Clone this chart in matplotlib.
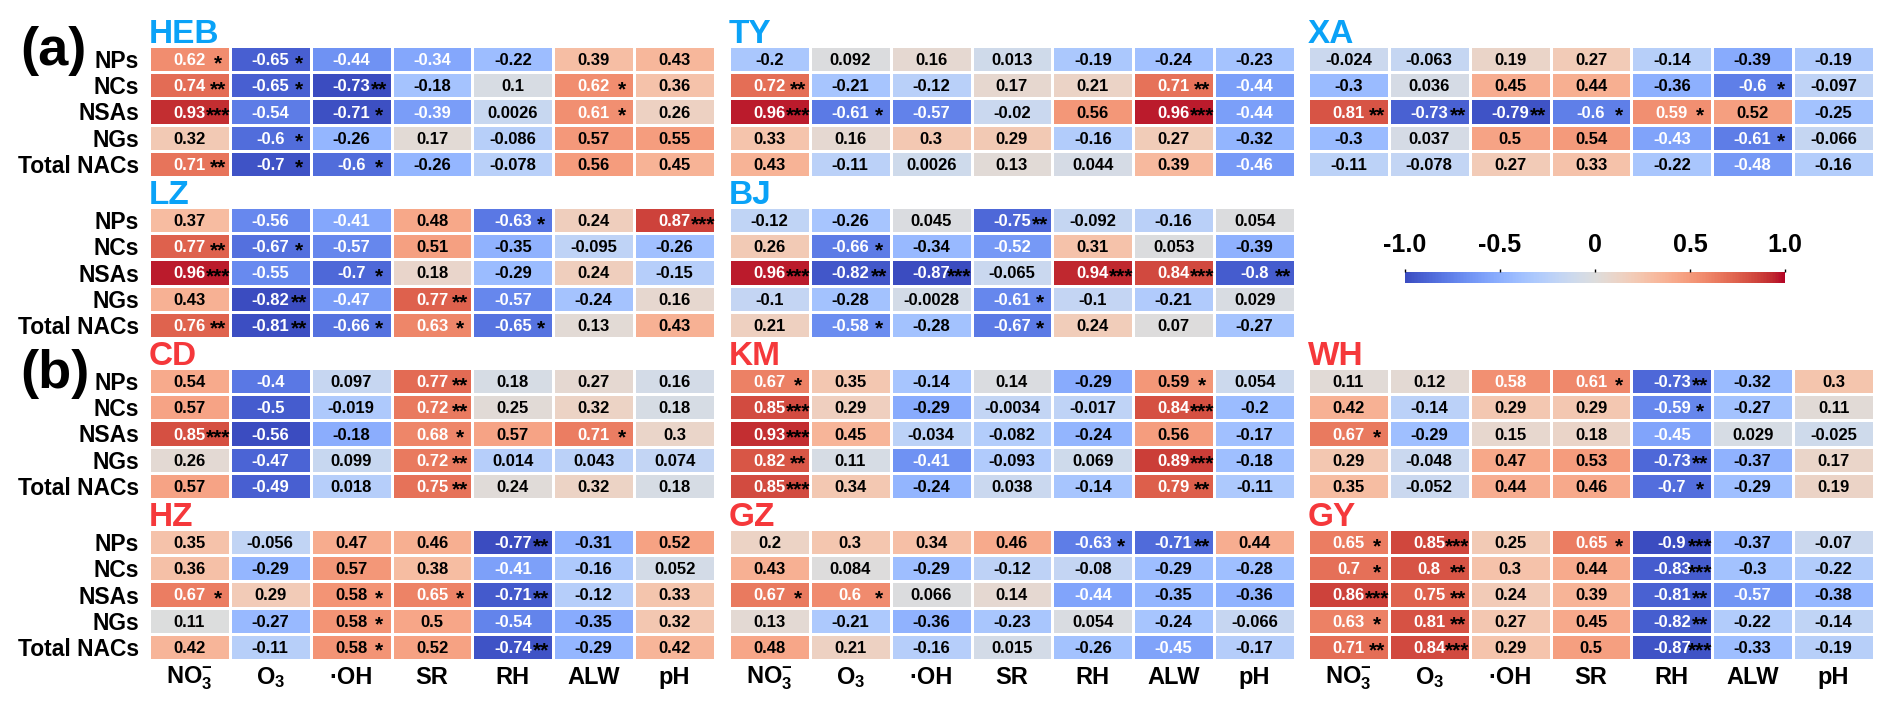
import numpy as np
import matplotlib
matplotlib.use('Agg')
import matplotlib.pyplot as plt
from matplotlib.colors import Normalize
from matplotlib.cm import ScalarMappable

plt.rcParams['font.family'] = ['Liberation Sans', 'DejaVu Sans']
plt.rcParams['mathtext.fontset'] = 'custom'
plt.rcParams['mathtext.rm'] = 'Liberation Sans:bold'
plt.rcParams['mathtext.it'] = 'Liberation Sans:bold'
plt.rcParams['mathtext.bf'] = 'Liberation Sans:bold'

# ---------------- data ----------------
factors = ['NO$_3^{-}$', 'O$_3$', '\u00b7OH', 'SR', 'RH', 'ALW', 'pH']
groups = ['NPs', 'NCs', 'NSAs', 'NGs', 'Total NACs']

heb_r = [[0.62, -0.65, -0.44, -0.34, -0.22, 0.39, 0.43],
         [0.74, -0.65, -0.73, -0.18, 0.1, 0.62, 0.36],
         [0.93, -0.54, -0.71, -0.39, 0.0026, 0.61, 0.26],
         [0.32, -0.6, -0.26, 0.17, -0.086, 0.57, 0.55],
         [0.71, -0.7, -0.6, -0.26, -0.078, 0.56, 0.45]]
heb_sig = [[1, 1, 0, 0, 0, 0, 0],
           [2, 1, 2, 0, 0, 1, 0],
           [3, 0, 1, 0, 0, 1, 0],
           [0, 1, 0, 0, 0, 0, 0],
           [2, 1, 1, 0, 0, 0, 0]]

ty_r = [[-0.2, 0.092, 0.16, 0.013, -0.19, -0.24, -0.23],
        [0.72, -0.21, -0.12, 0.17, 0.21, 0.71, -0.44],
        [0.96, -0.61, -0.57, -0.02, 0.56, 0.96, -0.44],
        [0.33, 0.16, 0.3, 0.29, -0.16, 0.27, -0.32],
        [0.43, -0.11, 0.0026, 0.13, 0.044, 0.39, -0.46]]
ty_sig = [[0, 0, 0, 0, 0, 0, 0],
          [2, 0, 0, 0, 0, 2, 0],
          [3, 1, 0, 0, 0, 3, 0],
          [0, 0, 0, 0, 0, 0, 0],
          [0, 0, 0, 0, 0, 0, 0]]

xa_r = [[-0.024, -0.063, 0.19, 0.27, -0.14, -0.39, -0.19],
        [-0.3, 0.036, 0.45, 0.44, -0.36, -0.6, -0.097],
        [0.81, -0.73, -0.79, -0.6, 0.59, 0.52, -0.25],
        [-0.3, 0.037, 0.5, 0.54, -0.43, -0.61, -0.066],
        [-0.11, -0.078, 0.27, 0.33, -0.22, -0.48, -0.16]]
xa_sig = [[0, 0, 0, 0, 0, 0, 0],
          [0, 0, 0, 0, 0, 1, 0],
          [2, 2, 2, 1, 1, 0, 0],
          [0, 0, 0, 0, 0, 1, 0],
          [0, 0, 0, 0, 0, 0, 0]]

lz_r = [[0.37, -0.56, -0.41, 0.48, -0.63, 0.24, 0.87],
        [0.77, -0.67, -0.57, 0.51, -0.35, -0.095, -0.26],
        [0.96, -0.55, -0.7, 0.18, -0.29, 0.24, -0.15],
        [0.43, -0.82, -0.47, 0.77, -0.57, -0.24, 0.16],
        [0.76, -0.81, -0.66, 0.63, -0.65, 0.13, 0.43]]
lz_sig = [[0, 0, 0, 0, 1, 0, 3],
          [2, 1, 0, 0, 0, 0, 0],
          [3, 0, 1, 0, 0, 0, 0],
          [0, 2, 0, 2, 0, 0, 0],
          [2, 2, 1, 1, 1, 0, 0]]

bj_r = [[-0.12, -0.26, 0.045, -0.75, -0.092, -0.16, 0.054],
        [0.26, -0.66, -0.34, -0.52, 0.31, 0.053, -0.39],
        [0.96, -0.82, -0.87, -0.065, 0.94, 0.84, -0.8],
        [-0.1, -0.28, -0.0028, -0.61, -0.1, -0.21, 0.029],
        [0.21, -0.58, -0.28, -0.67, 0.24, 0.07, -0.27]]
bj_sig = [[0, 0, 0, 2, 0, 0, 0],
          [0, 1, 0, 0, 0, 0, 0],
          [3, 2, 3, 0, 3, 3, 2],
          [0, 0, 0, 1, 0, 0, 0],
          [0, 1, 0, 1, 0, 0, 0]]

cd_r = [[0.54, -0.4, 0.097, 0.77, 0.18, 0.27, 0.16],
        [0.57, -0.5, -0.019, 0.72, 0.25, 0.32, 0.18],
        [0.85, -0.56, -0.18, 0.68, 0.57, 0.71, 0.3],
        [0.26, -0.47, 0.099, 0.72, 0.014, 0.043, 0.074],
        [0.57, -0.49, 0.018, 0.75, 0.24, 0.32, 0.18]]
cd_sig = [[0, 0, 0, 2, 0, 0, 0],
          [0, 0, 0, 2, 0, 0, 0],
          [3, 0, 0, 1, 0, 1, 0],
          [0, 0, 0, 2, 0, 0, 0],
          [0, 0, 0, 2, 0, 0, 0]]

km_r = [[0.67, 0.35, -0.14, 0.14, -0.29, 0.59, 0.054],
        [0.85, 0.29, -0.29, -0.0034, -0.017, 0.84, -0.2],
        [0.93, 0.45, -0.034, -0.082, -0.24, 0.56, -0.17],
        [0.82, 0.11, -0.41, -0.093, 0.069, 0.89, -0.18],
        [0.85, 0.34, -0.24, 0.038, -0.14, 0.79, -0.11]]
km_sig = [[1, 0, 0, 0, 0, 1, 0],
          [3, 0, 0, 0, 0, 3, 0],
          [3, 0, 0, 0, 0, 0, 0],
          [2, 0, 0, 0, 0, 3, 0],
          [3, 0, 0, 0, 0, 2, 0]]

wh_r = [[0.11, 0.12, 0.58, 0.61, -0.73, -0.32, 0.3],
        [0.42, -0.14, 0.29, 0.29, -0.59, -0.27, 0.11],
        [0.67, -0.29, 0.15, 0.18, -0.45, 0.029, -0.025],
        [0.29, -0.048, 0.47, 0.53, -0.73, -0.37, 0.17],
        [0.35, -0.052, 0.44, 0.46, -0.7, -0.29, 0.19]]
wh_sig = [[0, 0, 0, 1, 2, 0, 0],
          [0, 0, 0, 0, 1, 0, 0],
          [1, 0, 0, 0, 0, 0, 0],
          [0, 0, 0, 0, 2, 0, 0],
          [0, 0, 0, 0, 1, 0, 0]]

hz_r = [[0.35, -0.056, 0.47, 0.46, -0.77, -0.31, 0.52],
        [0.36, -0.29, 0.57, 0.38, -0.41, -0.16, 0.052],
        [0.67, 0.29, 0.58, 0.65, -0.71, -0.12, 0.33],
        [0.11, -0.27, 0.58, 0.5, -0.54, -0.35, 0.32],
        [0.42, -0.11, 0.58, 0.52, -0.74, -0.29, 0.42]]
hz_sig = [[0, 0, 0, 0, 2, 0, 0],
          [0, 0, 0, 0, 0, 0, 0],
          [1, 0, 1, 1, 2, 0, 0],
          [0, 0, 1, 0, 0, 0, 0],
          [0, 0, 1, 0, 2, 0, 0]]

gz_r = [[0.2, 0.3, 0.34, 0.46, -0.63, -0.71, 0.44],
        [0.43, 0.084, -0.29, -0.12, -0.08, -0.29, -0.28],
        [0.67, 0.6, 0.066, 0.14, -0.44, -0.35, -0.36],
        [0.13, -0.21, -0.36, -0.23, 0.054, -0.24, -0.066],
        [0.48, 0.21, -0.16, 0.015, -0.26, -0.45, -0.17]]
gz_sig = [[0, 0, 0, 0, 1, 2, 0],
          [0, 0, 0, 0, 0, 0, 0],
          [1, 1, 0, 0, 0, 0, 0],
          [0, 0, 0, 0, 0, 0, 0],
          [0, 0, 0, 0, 0, 0, 0]]

gy_r = [[0.65, 0.85, 0.25, 0.65, -0.9, -0.37, -0.07],
        [0.7, 0.8, 0.3, 0.44, -0.83, -0.3, -0.22],
        [0.86, 0.75, 0.24, 0.39, -0.81, -0.57, -0.38],
        [0.63, 0.81, 0.27, 0.45, -0.82, -0.22, -0.14],
        [0.71, 0.84, 0.29, 0.5, -0.87, -0.33, -0.19]]
gy_sig = [[1, 3, 0, 1, 3, 0, 0],
          [1, 2, 0, 0, 3, 0, 0],
          [3, 2, 0, 0, 2, 0, 0],
          [1, 2, 0, 0, 2, 0, 0],
          [2, 3, 0, 0, 3, 0, 0]]

cities = ['HEB', 'TY', 'XA', 'LZ', 'BJ', 'CD', 'KM', 'WH', 'HZ', 'GZ', 'GY']
city_r = [heb_r, ty_r, xa_r, lz_r, bj_r, cd_r, km_r, wh_r, hz_r, gz_r, gy_r]
city_sig = [heb_sig, ty_sig, xa_sig, lz_sig, bj_sig, cd_sig, km_sig, wh_sig,
            hz_sig, gz_sig, gy_sig]
city_part = ['a', 'a', 'a', 'a', 'a', 'b', 'b', 'b', 'b', 'b', 'b']

# ---------------- style / layout ----------------
color_lo = [-0.73, -0.80, -0.82, -0.82, -0.87, -0.56, -0.69, -0.85, -0.77, -0.84, -0.90]
color_hi = 1.0
grid_pos = [(0, 0), (0, 1), (0, 2), (1, 0), (1, 1), (2, 0), (2, 1), (2, 2),
            (3, 0), (3, 1), (3, 2)]
title_colors = {'a': '#0AA2F7', 'b': '#F5383B'}

W, H = 1892, 709
fig = plt.figure(figsize=(W / 100, H / 100), dpi=100)
cmap = plt.get_cmap('coolwarm')

col_x = [149, 729, 1308]
row_y = [46, 207, 368, 529]
pw, ph = 566, 131


def text_color(rgba):
    rgb = np.asarray(rgba[:3], dtype=float)
    lin = np.where(rgb <= 0.03928, rgb / 12.92, ((rgb + 0.055) / 1.055) ** 2.4)
    lum = 0.2126 * lin[0] + 0.7152 * lin[1] + 0.0722 * lin[2]
    return 'white' if lum < 0.408 else 'black'


for k, name in enumerate(cities):
    r, c = grid_pos[k]
    x0, y0 = col_x[c], row_y[r]
    ax = fig.add_axes([x0 / W, 1 - (y0 + ph) / H, pw / W, ph / H])
    vals = np.array(city_r[k], dtype=float)
    sig = np.array(city_sig[k])
    norm = Normalize(color_lo[k], color_hi)
    ax.pcolormesh(vals, cmap=cmap, norm=norm, edgecolors='white', linewidth=1.8)
    ax.set_xlim(0, vals.shape[1])
    ax.set_ylim(vals.shape[0], 0)
    for s in ax.spines.values():
        s.set_visible(False)
    for i in range(vals.shape[0]):
        for j in range(vals.shape[1]):
            v = vals[i, j]
            tc = text_color(cmap(norm(v)))
            ax.text(j + 0.5, i + 0.5, format(v, '.2g'), ha='center',
                    va='center_baseline', fontsize=12, fontweight='bold', color=tc)
            if sig[i, j] > 0:
                ax.text(j + 0.85, i + 0.88, '*' * int(sig[i, j]), ha='center',
                        va='baseline', fontsize=15, fontweight='bold', color='black')
    ax.set_xticks([])
    if c == 0:
        ax.set_yticks(np.arange(len(groups)) + 0.5)
        ax.set_yticklabels(groups, fontsize=16.5, fontweight='bold')
        ax.tick_params(axis='y', length=0, pad=7)
    else:
        ax.set_yticks([])
    # title
    fig.text(x0 / W, 1 - (y0 - 3) / H, name, ha='left', va='baseline',
             fontsize=24, fontweight='bold', color=title_colors[city_part[k]])
    # x labels on bottom row
    if r == 3:
        cw = pw / len(factors)
        for j, lab in enumerate(factors):
            fig.text((x0 + (j + 0.5) * cw) / W, 1 - 684 / H, lab, ha='center',
                     va='baseline', fontsize=17, fontweight='bold')

fig.text(20 / W, 1 - 65 / H, '(a)', ha='left', va='baseline', fontsize=39,
         fontweight='bold')
fig.text(20 / W, 1 - 388 / H, '(b)', ha='left', va='baseline', fontsize=39,
         fontweight='bold')

# colorbar
cbar_ticks = [-1.0, -0.5, 0.0, 0.5, 1.0]
cbar_labels = ['-1.0', '-0.5', '0', '0.5', '1.0']
cax = fig.add_axes([1405 / W, 1 - 283 / H, 380 / W, 11 / H])
sm = ScalarMappable(norm=Normalize(-1, 1), cmap=cmap)
cb = fig.colorbar(sm, cax=cax, orientation='horizontal')
cb.outline.set_visible(False)
cb.set_ticks(cbar_ticks)
cb.set_ticklabels(cbar_labels)
cax.xaxis.set_ticks_position('top')
cax.xaxis.set_label_position('top')
cax.tick_params(axis='x', length=2.5, width=1, pad=8, labelsize=18)
for t in cax.get_xticklabels():
    t.set_fontweight('bold')

fig.savefig('out.png', dpi=100)
